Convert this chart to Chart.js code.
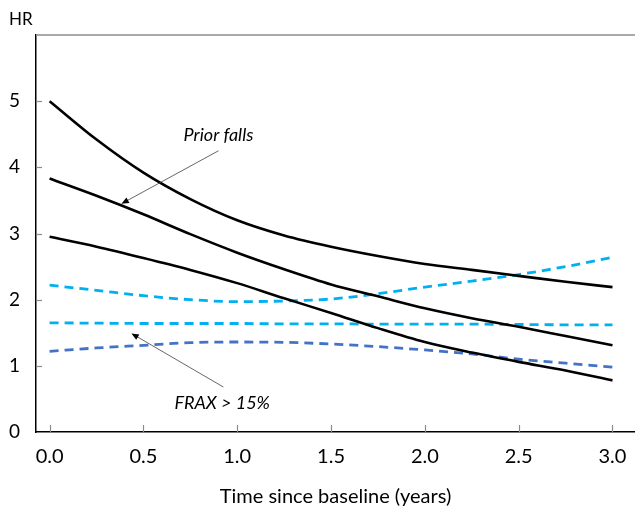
<!DOCTYPE html>
<html lang="en">
<head>
<meta charset="UTF-8">
<title>HR over time since baseline</title>
<script src="https://cdn.jsdelivr.net/npm/chart.js"></script>
<style>
  html, body { margin: 0; padding: 0; background: #fff; }
  #wrap { width: 635px; height: 509px; }
</style>
</head>
<body>

<div id="wrap"><canvas id="chart"></canvas></div>

<script>
// years since baseline
const years = [0, 0.25, 0.5, 0.75, 1.0, 1.25, 1.5, 1.75, 2.0, 2.25, 2.5, 2.75, 3.0];

// prior falls: upper CI, estimate, lower CI
const fallsUpper = [5.0, 4.42, 3.92, 3.52, 3.2, 2.97, 2.8, 2.66, 2.54, 2.45, 2.36, 2.27, 2.19];
const falls      = [3.83, 3.57, 3.29, 2.99, 2.71, 2.46, 2.23, 2.05, 1.87, 1.72, 1.59, 1.45, 1.31];
const fallsLower = [2.95, 2.8, 2.63, 2.45, 2.25, 2.02, 1.8, 1.57, 1.36, 1.2, 1.06, 0.93, 0.78];

// FRAX > 15%: upper CI, estimate, lower CI
const fraxUpper = [2.22, 2.14, 2.06, 2.0, 1.97, 1.98, 2.01, 2.09, 2.19, 2.28, 2.38, 2.5, 2.64];
const frax      = [1.65, 1.645, 1.64, 1.64, 1.64, 1.635, 1.635, 1.63, 1.63, 1.63, 1.625, 1.62, 1.62];
const fraxLower = [1.22, 1.27, 1.31, 1.35, 1.36, 1.355, 1.33, 1.29, 1.24, 1.18, 1.1, 1.04, 0.98];

const xTicks = [0, 0.5, 1.0, 1.5, 2.0, 2.5, 3.0];
const yTicks = [0, 1, 2, 3, 4, 5];

const FONT = 'Lato, "Open Sans", sans-serif';

function pts(vals) {
  return years.map((x, i) => ({ x: x, y: vals[i] }));
}

function solid(vals) {
  return { data: pts(vals), borderColor: '#000', borderWidth: 2.6, pointRadius: 0, cubicInterpolationMode: 'monotone' };
}

function dashed(vals, color) {
  return { data: pts(vals), borderColor: color, borderWidth: 2.8, borderDash: [9, 6], pointRadius: 0, cubicInterpolationMode: 'monotone' };
}

// top frame, inward ticks, "HR" label and the two arrow notes
const extras = {
  id: 'extras',
  afterDraw(chart) {
    const { ctx, chartArea: a, scales: { x, y } } = chart;
    ctx.save();

    ctx.strokeStyle = '#8c8c8c';
    ctx.lineWidth = 1.5;
    ctx.beginPath();
    ctx.moveTo(a.left, a.top);
    ctx.lineTo(a.right, a.top);
    ctx.stroke();

    ctx.lineWidth = 1.2;
    xTicks.forEach(v => {
      const px = Math.round(x.getPixelForValue(v)) + 0.5;
      ctx.beginPath();
      ctx.moveTo(px, a.bottom);
      ctx.lineTo(px, a.bottom - 7);
      ctx.stroke();
    });
    yTicks.slice(1).forEach(v => {
      const py = Math.round(y.getPixelForValue(v)) + 0.5;
      ctx.beginPath();
      ctx.moveTo(a.left, py);
      ctx.lineTo(a.left + 6, py);
      ctx.stroke();
    });

    ctx.fillStyle = '#000';
    ctx.font = '17px ' + FONT;
    ctx.textAlign = 'left';
    ctx.textBaseline = 'alphabetic';
    ctx.fillText('HR', 9, 25);

    note(ctx, x, y, 'Prior falls', 0.9, 4.48, [0.9, 4.25], [0.383, 3.45]);
    note(ctx, x, y, 'FRAX > 15%', 0.92, 0.44, [0.926, 0.68], [0.436, 1.49]);

    ctx.restore();
  }
};

function note(ctx, x, y, text, tx, ty, from, to) {
  ctx.font = 'italic 18px ' + FONT;
  ctx.textAlign = 'center';
  ctx.textBaseline = 'middle';
  ctx.fillStyle = '#000';
  ctx.fillText(text, x.getPixelForValue(tx), y.getPixelForValue(ty));

  const x0 = x.getPixelForValue(from[0]), y0 = y.getPixelForValue(from[1]);
  const x1 = x.getPixelForValue(to[0]), y1 = y.getPixelForValue(to[1]);
  const ang = Math.atan2(y1 - y0, x1 - x0);
  ctx.strokeStyle = '#404040';
  ctx.lineWidth = 0.8;
  ctx.beginPath();
  ctx.moveTo(x0, y0);
  ctx.lineTo(x1 - 5 * Math.cos(ang), y1 - 5 * Math.sin(ang));
  ctx.stroke();
  ctx.fillStyle = '#000';
  ctx.beginPath();
  ctx.moveTo(x1, y1);
  ctx.lineTo(x1 - 8 * Math.cos(ang - 0.4), y1 - 8 * Math.sin(ang - 0.4));
  ctx.lineTo(x1 - 8 * Math.cos(ang + 0.4), y1 - 8 * Math.sin(ang + 0.4));
  ctx.closePath();
  ctx.fill();
}

new Chart(document.getElementById('chart'), {
  type: 'line',
  data: {
    datasets: [
      solid(fallsUpper),
      solid(falls),
      solid(fallsLower),
      dashed(fraxUpper, '#00b0f0'),
      dashed(frax, '#00b0f0'),
      dashed(fraxLower, '#4472c4')
    ]
  },
  options: {
    responsive: true,
    maintainAspectRatio: false,
    animation: false,
    layout: { padding: { top: 35, right: 0, left: 0, bottom: 0 } },
    plugins: { legend: { display: false }, tooltip: { enabled: false } },
    scales: {
      x: {
        type: 'linear',
        min: -0.0725,
        max: 3.12,
        afterBuildTicks: s => { s.ticks = xTicks.map(v => ({ value: v })); },
        afterFit: s => { s.height = 77; s.paddingLeft = 0; s.paddingRight = 0; },
        grid: { display: false, drawTicks: false },
        border: { display: true, color: '#000', width: 1.5 },
        ticks: {
          padding: 13,
          maxRotation: 0,
          color: '#000',
          font: { family: FONT, size: 20 },
          callback: v => v.toFixed(1)
        },
        title: {
          display: true,
          text: 'Time since baseline (years)',
          color: '#000',
          font: { family: FONT, size: 20 },
          padding: { top: 4, bottom: 0 }
        }
      },
      y: {
        min: 0,
        max: 6,
        afterBuildTicks: s => { s.ticks = yTicks.map(v => ({ value: v })); },
        afterFit: s => { s.width = 36; s.paddingTop = 0; s.paddingBottom = 0; },
        grid: { display: false, drawTicks: false },
        border: { display: true, color: '#000', width: 1.5 },
        ticks: {
          padding: 16,
          color: '#000',
          font: { family: FONT, size: 19 }
        }
      }
    }
  },
  plugins: [extras]
});
</script>

</body>
</html>
